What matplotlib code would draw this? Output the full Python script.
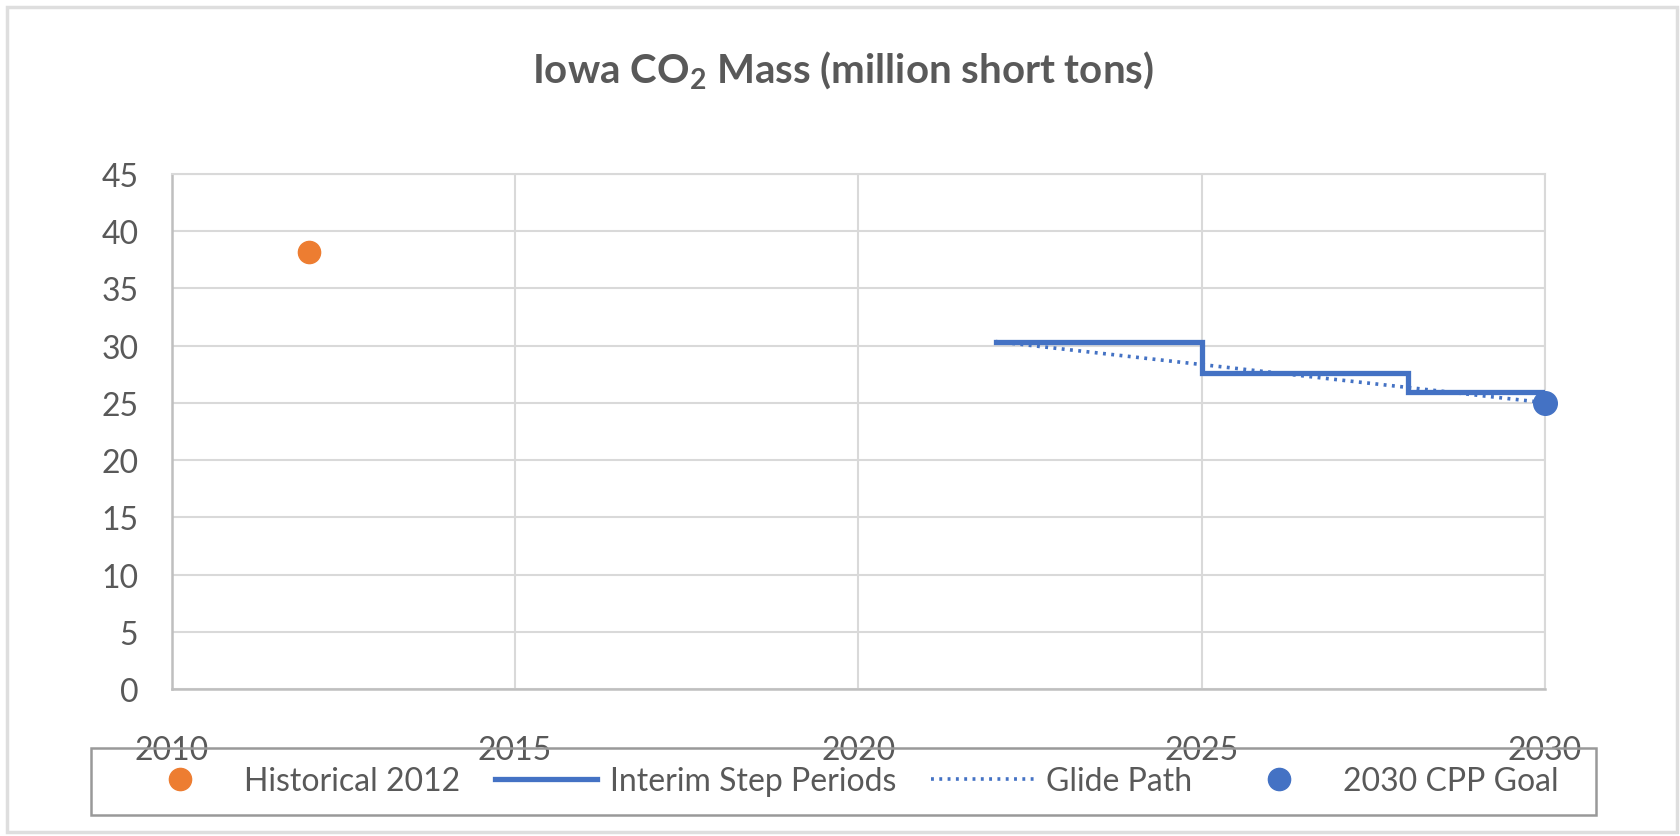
import matplotlib
matplotlib.use('Agg')
import matplotlib.pyplot as plt
from matplotlib.patches import Rectangle
from matplotlib.lines import Line2D

plt.rcParams['font.family'] = ['Lato', 'DejaVu Sans']
plt.rcParams['mathtext.fontset'] = 'custom'
plt.rcParams['mathtext.rm'] = 'Lato'
plt.rcParams['mathtext.bf'] = 'Lato:bold'
plt.rcParams['mathtext.default'] = 'bf'

# data (million short tons)
hist_year = [2012]
hist_val = [38.2]
step_years = [2022, 2025, 2025, 2028, 2028, 2030]
step_vals = [30.36, 30.36, 27.61, 27.61, 25.99, 25.99]
glide_years = [2022, 2023, 2024, 2025, 2026, 2027, 2028, 2029, 2030]
glide_vals = [30.36, 29.69, 29.02, 28.35, 27.68, 27.01, 26.35, 25.68, 25.02]
goal_year = [2030]
goal_val = [25.02]

xticks = [2010, 2015, 2020, 2025, 2030]
yticks = list(range(0, 50, 5))

orange = '#ED7D31'
blue = '#4472C4'
grey_txt = '#595959'
grid_c = '#d9d9d9'

W, H = 1681, 837
fig = plt.figure(figsize=(W / 100, H / 100), dpi=100)
ax = fig.add_axes([171.7 / W, 1 - 690 / H, (1545 - 171.7) / W, (690 - 175) / H])

ax.plot(glide_years, glide_vals, color=blue, lw=2.6, linestyle=(0, (0.8, 1.5)), zorder=3)
ax.plot(step_years, step_vals, color=blue, lw=3.8, solid_joinstyle='miter', zorder=4)
ax.plot(hist_year, hist_val, 'o', color=orange, ms=16, zorder=5, clip_on=False)
ax.plot(goal_year, goal_val, 'o', color=blue, ms=17, zorder=5, clip_on=False)

ax.set_xlim(2010, 2030)
ax.set_ylim(0, 45)
ax.set_xticks(xticks)
ax.set_yticks(yticks)
ax.grid(True, color=grid_c, lw=1.5)
ax.set_axisbelow(True)
for s in ['top', 'right']:
    ax.spines[s].set_color(grid_c)
    ax.spines[s].set_linewidth(1.5)
for s in ['left', 'bottom']:
    ax.spines[s].set_color('#bfbfbf')
    ax.spines[s].set_linewidth(1.8)
ax.tick_params(length=0, labelsize=23, colors=grey_txt)
ax.tick_params(axis='x', pad=33)
ax.tick_params(axis='y', pad=24)

fig.text(843 / W, 1 - 70 / H, r'Iowa CO$_2$ Mass (million short tons)', ha='center', va='center',
         fontsize=29, fontweight='bold', color=grey_txt)

# legend box
fig.patches.append(Rectangle((91 / W, 1 - 816 / H), (1596 - 91) / W, (816 - 749) / H,
                             transform=fig.transFigure, fill=False, edgecolor='#999999', lw=1.8))
# outer chart border
fig.patches.append(Rectangle((7 / W, 1 - 833 / H), (1677 - 7) / W, (833 - 8) / H,
                             transform=fig.transFigure, fill=False, edgecolor='#dedede', lw=2.5))

handles = [
    Line2D([], [], marker='o', color=orange, ls='none', ms=16),
    Line2D([], [], color=blue, lw=3.8),
    Line2D([], [], color=blue, lw=2.6, linestyle=(0, (0.8, 1.5))),
    Line2D([], [], marker='o', color=blue, ls='none', ms=16),
]
labels = ['Historical 2012', 'Interim Step Periods', 'Glide Path', '2030 CPP Goal']
fig.legend(handles, labels, loc='center', bbox_to_anchor=(843.5 / W, 1 - 782.5 / H), ncol=4,
           frameon=False, fontsize=23, labelcolor=grey_txt, handlelength=3.2,
           handletextpad=0.4, columnspacing=1.1)

fig.savefig('out.png', dpi=100)
